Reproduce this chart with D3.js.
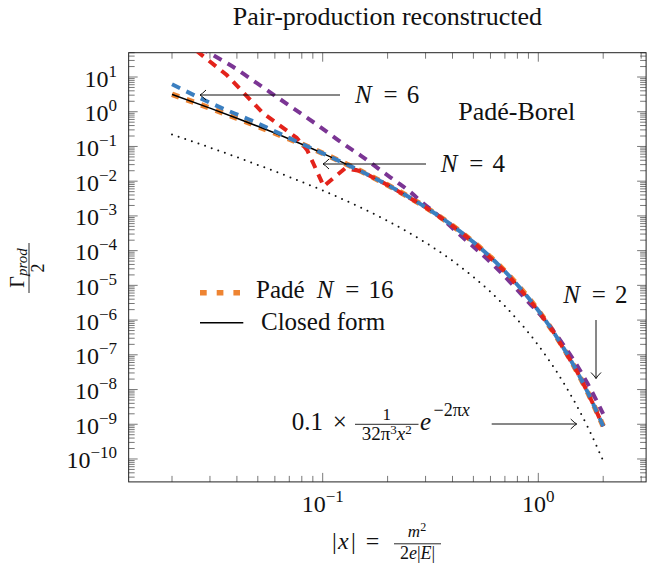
<!DOCTYPE html>
<html><head><meta charset="utf-8">
<script src="https://cdn.jsdelivr.net/npm/d3@7"></script>
<style>body{margin:0;background:#fff}svg{display:block}svg text{font-family:"Liberation Serif","Times New Roman",serif;fill:#111}</style>
</head><body><svg id="c" width="647" height="569"></svg>
<script>
// ---- data ----
const xClosed   = [0.02,0.03,0.04,0.05,0.07,0.1,0.15,0.2,0.3,0.4,0.5,0.7,1.0,1.2,1.5,1.7,2.0];
const closedForm= [3.162,1.269,0.6494,0.3800,0.1639,0.06343,0.01954,0.007759,0.001770,5.210e-4,1.761e-4,2.536e-5,1.883e-6,3.721e-7,3.615e-8,8.010e-9,8.787e-10];
const xPade16   = [0.02,0.03,0.04,0.05,0.07,0.1,0.15,0.2,0.3,0.4,0.5,0.7,1.0,1.2,1.5,1.7,2.0];
const pade16    = [3.162,1.269,0.6494,0.3800,0.1639,0.06343,0.01954,0.007759,0.001770,5.210e-4,1.761e-4,2.536e-5,1.883e-6,3.721e-7,3.615e-8,8.010e-9,8.787e-10];
const xPade6    = [0.02,0.0335,0.045,0.06,0.07,0.1,0.15,0.2,0.3,0.4,0.5,0.7,1.0,1.2,1.5,1.7,2.0];
const pade6     = [6.17,1.33,0.617,0.275,0.174,0.0634,0.01954,0.007759,0.001770,5.210e-4,1.761e-4,2.536e-5,1.883e-6,3.721e-7,3.615e-8,8.010e-9,8.787e-10];
const xPade4    = [0.02,0.0264,0.0359,0.0528,0.0757,0.0846,0.0905,0.0985,0.101,0.114,0.127,0.15,0.2,0.3,0.4,0.5,0.7,1.0,1.2,1.5,1.7,2.0];
const pade4     = [223.9,52.36,11.40,0.918,0.1778,0.07943,0.03236,0.0102,0.00708,0.01349,0.02344,0.01954,0.007759,0.001770,5.210e-4,1.761e-4,2.536e-5,1.883e-6,3.721e-7,3.615e-8,8.010e-9,8.787e-10];
const xPade2    = [0.02,0.0306,0.0372,0.055,0.0731,0.0971,0.127,0.149,0.194,0.22,0.254,0.288,0.35,0.434,0.63,0.9,1.1,1.3,1.5,1.7,2.0];
const pade2     = [199.5,44.98,22.13,4.217,1.253,0.3698,0.1099,0.05662,0.01683,0.009638,0.004977,0.002512,9.333e-4,2.818e-4,3.467e-5,3.311e-6,8.318e-7,2.042e-7,5.370e-8,1.413e-8,1.995e-9];
const xAsym     = [0.02,0.03,0.05,0.07,0.1,0.15,0.2,0.3,0.4,0.5,0.7,1.0,1.2,1.5,1.7,2.0];
const asymptotic= [0.2222,0.09275,0.02945,0.01325,0.005377,0.001746,7.172e-4,1.700e-4,5.103e-5,1.742e-5,2.529e-6,1.882e-7,3.721e-8,3.615e-9,8.010e-10,8.787e-11];
const xTickExps = [-1,0];
const yTickExps = [1,0,-1,-2,-3,-4,-5,-6,-7,-8,-9,-10];
const legendLabels = ["Padé", "Closed form"];
const titleText = "Pair-production reconstructed";

// ---- layout ----
const FONT = '"Liberation Serif","Times New Roman",serif';
const svg = d3.select("#c").attr("font-family",FONT);
const L=128.66, R=646.1, T=52.7, B=481.9;
const x = d3.scaleLog().domain([Math.pow(10,-1.9), Math.pow(10,0.5)]).range([L,R]);
const y = d3.scaleLog().domain([Math.pow(10,-10.66), Math.pow(10,1.70)]).range([B,T]);

svg.append("defs").append("clipPath").attr("id","clip")
  .append("rect").attr("x",L).attr("y",T).attr("width",R-L).attr("height",B-T);

// title
svg.append("text").attr("x",(L+R)/2).attr("y",25).attr("text-anchor","middle")
  .attr("font-size",26).text(titleText);

// ticks
const tickG = svg.append("g").attr("stroke","#555").attr("stroke-width",0.8);
const xt=[]; for(let k=-2;k<=0;k++) for(let m=1;m<=9;m++){const v=m*Math.pow(10,k); if(v>=x.domain()[0]&&v<=x.domain()[1]) xt.push({v,major:m===1});}
xt.forEach(t=>{const px=x(t.v), len=t.major?9:6;
  tickG.append("line").attr("x1",px).attr("x2",px).attr("y1",B).attr("y2",B-len);
  tickG.append("line").attr("x1",px).attr("x2",px).attr("y1",T).attr("y2",T+len);});
const yt=[]; for(let k=-11;k<=1;k++) for(let m=1;m<=9;m++){const v=m*Math.pow(10,k); if(v>=y.domain()[0]&&v<=y.domain()[1]) yt.push({v,major:m===1});}
yt.forEach(t=>{const py=y(t.v), len=t.major?9:6;
  tickG.append("line").attr("y1",py).attr("y2",py).attr("x1",L).attr("x2",L+len);
  tickG.append("line").attr("y1",py).attr("y2",py).attr("x1",R).attr("x2",R-len);});

// frame
svg.append("rect").attr("x",L).attr("y",T).attr("width",R-L).attr("height",B-T)
  .attr("fill","none").attr("stroke","#222").attr("stroke-width",1);

const expStr = e => e<0 ? "\u2212"+(-e) : String(e);
// y tick labels
yTickExps.forEach(e=>{
  const t = svg.append("text").attr("x",117).attr("y",y(Math.pow(10,e))+9.5).attr("text-anchor","end").attr("font-size",24);
  t.append("tspan").text("10");
  t.append("tspan").attr("dy",-10).attr("font-size",17).text(expStr(e));
});
// x tick labels
xTickExps.forEach(e=>{
  const t = svg.append("text").attr("x",x(Math.pow(10,e))).attr("y",511.7).attr("text-anchor","middle").attr("font-size",24);
  t.append("tspan").text("10");
  t.append("tspan").attr("dy",-10).attr("font-size",17).text(expStr(e));
});

// axis labels
{
  const g = svg.append("g");
  const t1 = g.append("text").attr("font-size",24).attr("y",548.5);
  t1.append("tspan").attr("x",332).text("|");
  t1.append("tspan").attr("x",338).attr("font-style","italic").text("x");
  t1.append("tspan").attr("x",351).text("|");
  g.append("text").attr("x",372.5).attr("y",548.5).attr("text-anchor","middle").attr("font-size",24).text("=");
  g.append("line").attr("x1",394).attr("x2",441).attr("y1",543.8).attr("y2",543.8).attr("stroke","#111").attr("stroke-width",0.9);
  const n = g.append("text").attr("x",417).attr("y",537).attr("text-anchor","middle").attr("font-size",17);
  n.append("tspan").attr("font-style","italic").text("m");
  n.append("tspan").attr("dy",-6).attr("font-size",12).text("2");
  const d = g.append("text").attr("x",417.5).attr("y",559).attr("text-anchor","middle").attr("font-size",18);
  d.append("tspan").text("2");
  d.append("tspan").attr("font-style","italic").text("e");
  d.append("tspan").text("|");
  d.append("tspan").attr("font-style","italic").text("E");
  d.append("tspan").text("|");
}
{
  const g = svg.append("g").attr("transform","translate(29,268) rotate(-90)");
  const n = g.append("text").attr("x",0).attr("y",-5).attr("text-anchor","middle").attr("font-size",20);
  n.append("tspan").text("\u0393");
  n.append("tspan").attr("dy",3).attr("font-size",15).attr("font-style","italic").text("prod");
  g.append("line").attr("x1",-25).attr("x2",25).attr("y1",0).attr("y2",0).attr("stroke","#111").attr("stroke-width",0.9);
  g.append("text").attr("x",0).attr("y",15).attr("text-anchor","middle").attr("font-size",18).text("2");
}

// curves
const line = d3.line().x(d=>x(d[0])).y(d=>y(d[1])).curve(d3.curveMonotoneX);
const lineLin = d3.line().x(d=>x(d[0])).y(d=>y(d[1]));
const zip=(a,b)=>a.map((v,i)=>[v,b[i]]);
const plot = svg.append("g").attr("clip-path","url(#clip)").attr("fill","none");
plot.append("path").attr("d",line(zip(xAsym,asymptotic))).attr("stroke","#111").attr("stroke-width",2)
  .attr("stroke-dasharray","0 7").attr("stroke-linecap","round");
plot.append("path").attr("d",line(zip(xPade16,pade16))).attr("stroke","#ee8432").attr("stroke-width",5.5).attr("stroke-dasharray","7.5 8");
plot.append("path").attr("d",line(zip(xClosed,closedForm))).attr("stroke","#000").attr("stroke-width",1.5);
plot.append("path").attr("d",line(zip(xPade2,pade2))).attr("stroke","#7b3594").attr("stroke-width",4).attr("stroke-dasharray","9 7");
plot.append("path").attr("d",lineLin(zip(xPade4,pade4))).attr("stroke","#e3231b").attr("stroke-width",4).attr("stroke-dasharray","9 7");
plot.append("path").attr("d",line(zip(xPade6,pade6))).attr("stroke","#3b7fc0").attr("stroke-width",4).attr("stroke-dasharray","9 7");

// annotations
const ann = svg.append("g");
function arrowLeft(x1,x2,yy){ ann.append("line").attr("x1",x1).attr("x2",x2).attr("y1",yy).attr("y2",yy).attr("stroke","#111").attr("stroke-width",1);
  ann.append("path").attr("d",`M${x2+6},${yy-5} Q${x2+2},${yy-1} ${x2},${yy} Q${x2+2},${yy+1} ${x2+6},${yy+5}`).attr("fill","none").attr("stroke","#111").attr("stroke-width",1);}
function arrowRight(x1,x2,yy){ ann.append("line").attr("x1",x1).attr("x2",x2).attr("y1",yy).attr("y2",yy).attr("stroke","#111").attr("stroke-width",1);
  ann.append("path").attr("d",`M${x2-6},${yy-5} Q${x2-2},${yy-1} ${x2},${yy} Q${x2-2},${yy+1} ${x2-6},${yy+5}`).attr("fill","none").attr("stroke","#111").attr("stroke-width",1);}
function arrowDown(xx,y1,y2){ ann.append("line").attr("x1",xx).attr("x2",xx).attr("y1",y1).attr("y2",y2).attr("stroke","#111").attr("stroke-width",1);
  ann.append("path").attr("d",`M${xx-5},${y2-6} Q${xx-1},${y2-2} ${xx},${y2} Q${xx+1},${y2-2} ${xx+5},${y2-6}`).attr("fill","none").attr("stroke","#111").attr("stroke-width",1);}
function eqN(x0,yb,val){
  ann.append("text").attr("x",x0).attr("y",yb).attr("font-size",25).attr("font-style","italic").text("N");
  ann.append("text").attr("x",x0+35.6).attr("y",yb).attr("font-size",25).attr("text-anchor","middle").text("=");
  ann.append("text").attr("x",x0+51.8).attr("y",yb).attr("font-size",25).text(val);
}
arrowLeft(340,200,95); eqN(355,103.3,"6");
arrowLeft(426,323,164); eqN(440.7,171.7,"4");
arrowDown(596,320,378.5); eqN(563.3,303.3,"2");
ann.append("text").attr("x",458.3).attr("y",120).attr("font-size",26).text("Padé-Borel");
// asymptotic formula label
ann.append("text").attr("x",291.7).attr("y",430).attr("font-size",25).text("0.1");
ann.append("text").attr("x",339.7).attr("y",430).attr("font-size",25).attr("text-anchor","middle").text("\u00d7");
ann.append("line").attr("x1",355).attr("x2",418.5).attr("y1",424.3).attr("y2",424.3).attr("stroke","#111").attr("stroke-width",0.9);
ann.append("text").attr("x",386.7).attr("y",420).attr("font-size",17).attr("text-anchor","middle").text("1");
{const d=ann.append("text").attr("x",386.7).attr("y",440).attr("font-size",19).attr("text-anchor","middle");
 d.append("tspan").text("32\u03c0"); d.append("tspan").attr("dy",-6).attr("font-size",13).text("3");
 d.append("tspan").attr("dy",6).attr("font-style","italic").text("x"); d.append("tspan").attr("dy",-6).attr("font-size",13).text("2");}
ann.append("text").attr("x",420).attr("y",430).attr("font-size",25).attr("font-style","italic").text("e");
{const s=ann.append("text").attr("x",433.5).attr("y",416).attr("font-size",18);
 s.append("tspan").text("\u22122\u03c0"); s.append("tspan").attr("font-style","italic").text("x");}
arrowRight(491.7,576.7,424);

// legend
const lg = svg.append("g");
lg.append("line").attr("x1",200).attr("x2",240).attr("y1",292.7).attr("y2",292.7).attr("stroke","#ee8432").attr("stroke-width",5.5).attr("stroke-dasharray","6.7 10");
lg.append("text").attr("x",256).attr("y",298.3).attr("font-size",25).text(legendLabels[0]);
lg.append("text").attr("x",316.7).attr("y",298.3).attr("font-size",25).attr("font-style","italic").text("N");
lg.append("text").attr("x",352.3).attr("y",298.3).attr("font-size",25).attr("text-anchor","middle").text("=");
lg.append("text").attr("x",368.5).attr("y",298.3).attr("font-size",25).text("16");
lg.append("line").attr("x1",200).attr("x2",243.3).attr("y1",322.7).attr("y2",322.7).attr("stroke","#000").attr("stroke-width",1.5);
lg.append("text").attr("x",261).attr("y",330).attr("font-size",25).text(legendLabels[1]);
</script></body></html>
